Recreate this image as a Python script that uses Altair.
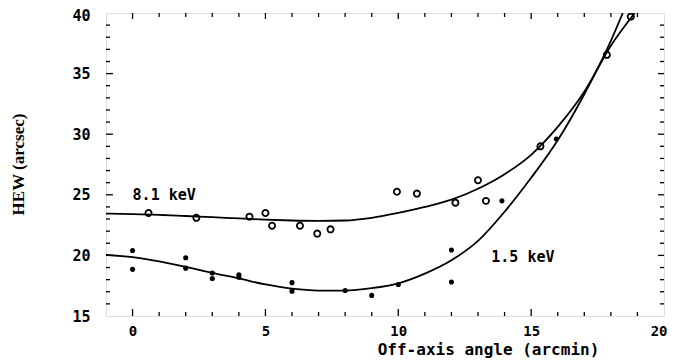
import altair as alt
import pandas as pd

# 8.1 keV measurements (open circles)
x_81 = [0.6, 2.4, 4.4, 5.0, 5.25, 6.3, 6.95, 7.45, 9.95, 10.7, 12.15, 13.0, 13.3, 15.35, 17.85, 18.75]
y_81 = [23.5, 23.1, 23.2, 23.5, 22.45, 22.45, 21.8, 22.15, 25.25, 25.1, 24.35, 26.2, 24.5, 29.0, 36.55, 39.7]

# 1.5 keV measurements (filled dots)
x_15 = [0, 0, 2, 2, 3, 3, 4, 4, 6, 6, 8, 9, 10, 12, 12, 13.9, 15.95]
y_15 = [20.4, 18.85, 19.8, 18.95, 18.55, 18.1, 18.4, 18.2, 17.75, 17.05, 17.1, 16.7, 17.6, 20.45, 17.8, 24.5, 29.6]

# fitted curves
curve81_x = [-1, 0, 1, 2, 3, 4, 5, 6, 7, 8, 9, 10, 11, 12, 13, 14, 15, 16, 17, 18, 18.9]
curve81_y = [23.45, 23.4, 23.35, 23.25, 23.15, 23.05, 22.95, 22.88, 22.85, 22.88, 23.1, 23.5, 24.0, 24.6, 25.5, 26.7, 28.3, 30.6, 33.5, 37.3, 40.0]
curve15_x = [-1, 0, 1, 2, 3, 4, 5, 6, 7, 8, 9, 10, 11, 12, 13, 14, 15, 16, 17, 18, 18.45]
curve15_y = [20.05, 19.85, 19.5, 19.05, 18.55, 18.1, 17.6, 17.25, 17.1, 17.1, 17.3, 17.7, 18.5, 19.6, 21.2, 23.6, 26.4, 29.5, 33.3, 37.7, 40.0]

# labels
label_text = ["8.1 keV", "1.5 keV"]
label_x = [0.0, 13.5]
label_y = [24.95, 19.9]

# tick values
x_major = [0, 5, 10, 15]
x_minor = [1, 2, 3, 4, 6, 7, 8, 9, 11, 12, 13, 14, 16, 17, 18, 19]
y_major = [20, 25, 30, 35]
y_minor = [16, 17, 18, 19, 21, 22, 23, 24, 26, 27, 28, 29, 31, 32, 33, 34, 36, 37, 38, 39]
x_labels = [0, 5, 10, 15, 20]
y_labels = [15, 20, 25, 30, 35, 40]

W, H = 558, 303
FONT = "DejaVu Sans Mono"

xs = alt.Scale(domain=[-1, 20], nice=False, zero=False)
ys = alt.Scale(domain=[15, 40], nice=False, zero=False)

X_AXIS = alt.Axis(values=x_labels, ticks=False, grid=False, domain=False,
                  labelFont=FONT, labelFontSize=14, labelFontWeight="bold", labelColor="black",
                  labelPadding=8, labelFlush=True, labelFlushOffset=3,
                  title="Off-axis angle (arcmin)", titleFont=FONT, titleFontSize=16,
                  titleFontWeight="bold", titleColor="black", titleX=W / 2 + 103,
                  titleY=33, titleBaseline="middle", titleAlign="center")
Y_AXIS = alt.Axis(values=y_labels, ticks=False, grid=False, domain=False,
                  labelFont=FONT, labelFontSize=15, labelFontWeight="bold", labelColor="black",
                  labelPadding=16, labelFlush=False,
                  labelOffset=alt.condition("datum.value == 40", alt.value(2), alt.value(0)),
                  title="HEW (arcsec)", titleFont="Liberation Serif", titleFontSize=17,
                  titleFontWeight="bold", titleColor="black", titleX=-88, titleY=151,
                  titleAngle=270, titleBaseline="middle", titleAlign="center")

pts81 = pd.DataFrame({"x": x_81, "y": y_81})
pts15 = pd.DataFrame({"x": x_15, "y": y_15})
c81 = pd.DataFrame({"x": curve81_x, "y": curve81_y})
c15 = pd.DataFrame({"x": curve15_x, "y": curve15_y})
labs = pd.DataFrame({"x": label_x, "y": label_y, "t": label_text})

base_line = alt.Chart(c81).mark_line(color="black", strokeWidth=1.8, interpolate="monotone", clip=True).encode(
    x=alt.X("x:Q", scale=xs, axis=X_AXIS),
    y=alt.Y("y:Q", scale=ys, axis=Y_AXIS),
)
line15 = alt.Chart(c15).mark_line(color="black", strokeWidth=1.8, interpolate="monotone", clip=True).encode(
    x=alt.X("x:Q", scale=xs), y=alt.Y("y:Q", scale=ys))

open_pts = alt.Chart(pts81).mark_point(shape="circle", filled=False, color="black", size=38,
                                       strokeWidth=1.8, opacity=1, clip=True).encode(
    x=alt.X("x:Q", scale=xs), y=alt.Y("y:Q", scale=ys))
filled_pts = alt.Chart(pts15).mark_point(shape="circle", filled=True, color="black", size=26,
                                         opacity=1, clip=True).encode(
    x=alt.X("x:Q", scale=xs), y=alt.Y("y:Q", scale=ys))

texts = alt.Chart(labs).mark_text(align="left", baseline="middle", font=FONT, fontSize=15,
                                  fontWeight="bold", color="black").encode(
    x=alt.X("x:Q", scale=xs), y=alt.Y("y:Q", scale=ys), text="t:N")


def xticks(vals, y0, y1):
    return alt.Chart(pd.DataFrame({"v": vals})).mark_rule(color="black", strokeWidth=1.3).encode(
        x=alt.X("v:Q", scale=xs), y=alt.value(y0), y2=alt.value(y1))


def yticks(vals, x0, x1):
    return alt.Chart(pd.DataFrame({"v": vals})).mark_rule(color="black", strokeWidth=1.3).encode(
        y=alt.Y("v:Q", scale=ys), x=alt.value(x0), x2=alt.value(x1))


tick_layers = [
    xticks(x_major, H, H - 7), xticks(x_minor, H, H - 4),
    xticks(x_major, 0, 6), xticks(x_minor, 0, 4),
    yticks(y_major, 0, 7), yticks(y_minor, 0, 4),
    yticks(y_major, W, W - 6), yticks(y_minor, W, W - 4),
]

chart = alt.layer(base_line, line15, open_pts, filled_pts, texts, *tick_layers).properties(
    width=W, height=H,
    autosize=alt.AutoSizeParams(type="none"),
    padding={"left": 98, "top": 5, "right": 4, "bottom": 44},
).configure_view(stroke="black", strokeWidth=2).configure(background="white")

chart.save("out.html", embed_options={"renderer": "svg", "actions": False})
